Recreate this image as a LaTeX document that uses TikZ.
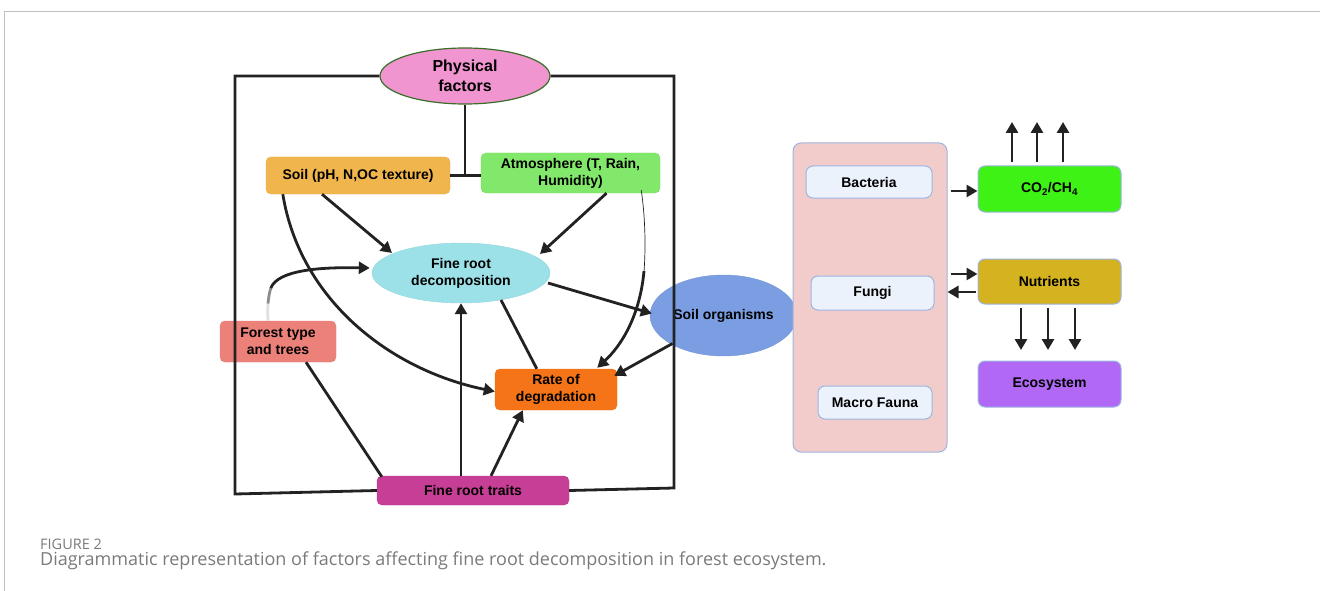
\documentclass[tikz,border=0pt]{standalone}
\usepackage{fontspec}
\setmainfont{Liberation Sans}
\newfontfamily\capfont{Open Sans}
\usetikzlibrary{arrows.meta,shapes.geometric,calc}
\definecolor{ink}{HTML}{222222}
\definecolor{cphys}{HTML}{F095D0}
\definecolor{cphysb}{HTML}{3B6E2A}
\definecolor{csoil}{HTML}{F0B54C}
\definecolor{catm}{HTML}{82E86B}
\definecolor{cfrd}{HTML}{9CE1E8}
\definecolor{cso}{HTML}{7B9DE1}
\definecolor{cforest}{HTML}{EC817A}
\definecolor{crate}{HTML}{F57417}
\definecolor{ctraits}{HTML}{C63E95}
\definecolor{cpanel}{HTML}{F2CCCB}
\definecolor{cblue}{HTML}{9DB5E0}
\definecolor{csmall}{HTML}{EBF2FB}
\definecolor{cco}{HTML}{3FF216}
\definecolor{cnut}{HTML}{D4B220}
\definecolor{ceco}{HTML}{B068F5}
\definecolor{capgray}{HTML}{7A7A7A}
\tikzset{
  box/.style={rounded corners=5pt, inner sep=0pt, align=center, font=\bfseries\fontsize{14}{17}\selectfont, text=black},
  oval/.style={ellipse, inner sep=0pt, align=center, font=\bfseries\fontsize{14}{17}\selectfont, text=black},
  arr/.style={draw=ink, line width=2.8pt, -{Triangle[length=11pt,width=12pt]}},
  ln/.style={draw=ink, line width=2.8pt},
}
\begin{document}
\begin{tikzpicture}[x=1pt,y=-1pt]
\useasboundingbox (0,0) rectangle (1320,591);
% outer frame
\draw[black!25, line width=1pt] (4.5,591) -- (4.5,11.5) -- (1320,11.5);

% nodes
\node[oval, fill=cphys, draw=cphysb, line width=1.2pt, minimum width=170pt, minimum height=56pt, font=\bfseries\fontsize{16}{20}\selectfont] (phys) at (465,76) {Physical\\factors};
\node[box, fill=csoil, draw=csoil!95!black, minimum width=184pt, minimum height=37pt] (soil) at (358,175.5) {Soil (pH, N,OC texture)};
\node[box, fill=catm, draw=catm!95!black, minimum width=179pt, minimum height=40pt] (atm) at (570.5,173) {Atmosphere (T, Rain,\\Humidity)};
\node[oval, fill=cfrd, draw=cfrd!95!black, minimum width=178pt, minimum height=60pt] (frd) at (461,273) {Fine root\\decomposition};
\node[oval, fill=cso, draw=cso!95!black, minimum width=147pt, minimum height=81pt] (so) at (723.5,315.5) {Soil organisms};
\node[box, fill=cforest, draw=cforest!95!black, minimum width=116pt, minimum height=41pt] (forest) at (278,341.5) {Forest type\\and trees};
\node[box, fill=crate, draw=crate!95!black, minimum width=122pt, minimum height=41pt] (rate) at (556,389.5) {Rate of\\degradation};
\node[box, fill=ctraits, draw=ctraits!95!black, minimum width=192pt, minimum height=29pt] (traits) at (473,490.5) {Fine root traits};

\node[rounded corners=8pt, fill=cpanel, draw=cblue, line width=1pt, minimum width=154pt, minimum height=309pt] (panel) at (870,297.5) {};
\node[box, fill=csmall, draw=cblue, line width=1pt, minimum width=126pt, minimum height=32pt, rounded corners=7pt] (bact) at (869,182) {Bacteria};
\node[box, fill=csmall, draw=cblue, line width=1pt, minimum width=123pt, minimum height=34pt, rounded corners=7pt] (fungi) at (872.5,293) {Fungi};
\node[box, fill=csmall, draw=cblue, line width=1pt, minimum width=114pt, minimum height=33pt, rounded corners=7pt] (macro) at (875,402.5) {Macro Fauna};
\node[box, fill=cco, draw=cblue, line width=1pt, minimum width=143pt, minimum height=46pt, rounded corners=7pt] (co2) at (1049.5,189) {CO\textsubscript{2}/CH\textsubscript{4}};
\node[box, fill=cnut, draw=cblue, line width=1pt, minimum width=143pt, minimum height=45pt, rounded corners=7pt] (nut) at (1049.5,281.5) {Nutrients};
\node[box, fill=ceco, draw=cblue, line width=1pt, minimum width=143pt, minimum height=46pt, rounded corners=7pt] (eco) at (1049.5,384) {Ecosystem};

% frame connectors
\draw[ln] (phys.west) -- (235,76) -- (235,494) -- (traits.west);
\draw[ln] (phys.east) -- (674,76) -- (674,488) -- (traits.east);
\draw[ln] (phys.south) -- (phys.south |- soil.east);
\draw[ln] (soil.east) -- (soil.east -| atm.west);

% arrows into fine root decomposition
\draw[arr] ($(soil.south)+(-36,0)$) -- ($(frd.center)+(-69,-20)$);
\draw[arr] ($(atm.south)+(36,0)$) -- ($(frd.center)+(79,-19)$);
\draw[arr] (traits.north -| frd.south) -- (frd.south);
% forest -> frd (fading start)
\draw[black!12, line width=2.8pt] ($(forest.north)+(-10,0)$) .. controls (267.7,315) and (267.6,309) .. (268,303);
\draw[black!45, line width=2.8pt] (268,303.5) .. controls (268.6,297) and (269.5,292) .. (271,287.5);
\draw[arr] (270.8,288) .. controls (278,270) and (320,267) .. ($(frd.west)+(-2,-5)$);

% arrows into rate of degradation
\draw[arr] ($(soil.south west)+(17,0)$) .. controls (300,300) and (390,370) .. ($(rate.west)+(0,2)$);
\draw[ink, line width=0.7pt] ($(atm.south east)+(-19,-3)$) .. controls (645,215) and (646,245) .. (644,272);
\draw[arr] (644,271) .. controls (640,315) and (622,345) .. ($(rate.north east)+(-20,-1)$);
\draw[arr] ($(traits.north)+(18,0)$) -- ($(rate.south west)+(28,0)$);
\draw[arr] ($(so.center)+(-51,28)$) -- ($(rate.north east)+(-3,7)$);
\draw[ln] ($(frd.center)+(40,27)$) -- ($(rate.north west)+(42,0)$);
\draw[arr] ($(frd.center)+(87,10)$) -- ($(so.west)+(2,-2)$);
\draw[ln] ($(forest.south)+(28,0)$) -- ($(traits.north west)+(5,1)$);

% right side
\coordinate (u1) at (1012,122);
\coordinate (u2) at (1037,122);
\coordinate (u3) at (1063,122);
\coordinate (d1) at (1021,350);
\coordinate (d2) at (1048,350);
\coordinate (d3) at (1075,350);
\draw[arr] ($(panel.east |- 0,191)+(3,0)$) -- (co2.west |- 0,191);
\draw[arr] ($(panel.east |- 0,274)+(3,0)$) -- (nut.west |- 0,274);
\draw[arr] ($(nut.west |- 0,292)+(-2,0)$) -- (panel.east |- 0,292);
\foreach \c in {u1,u2,u3}{
  \draw[arr] ($(co2.north -| \c)+(0,-3)$) -- (\c);
}
\foreach \c in {d1,d2,d3}{
  \draw[arr] ($(nut.south -| \c)+(0,3)$) -- (\c);
}

% caption
\node[anchor=base west, inner sep=0pt, text=capgray, font=\capfont\fontsize{14.5}{17}\selectfont] (figlab) at (40,549) {FIGURE 2};
\node[anchor=base west, inner sep=0pt, text=capgray, font=\capfont\fontsize{18}{21}\selectfont] (caption) at (40,565) {Diagrammatic representation of factors affecting fine root decomposition in forest ecosystem.};
\end{tikzpicture}
\end{document}
